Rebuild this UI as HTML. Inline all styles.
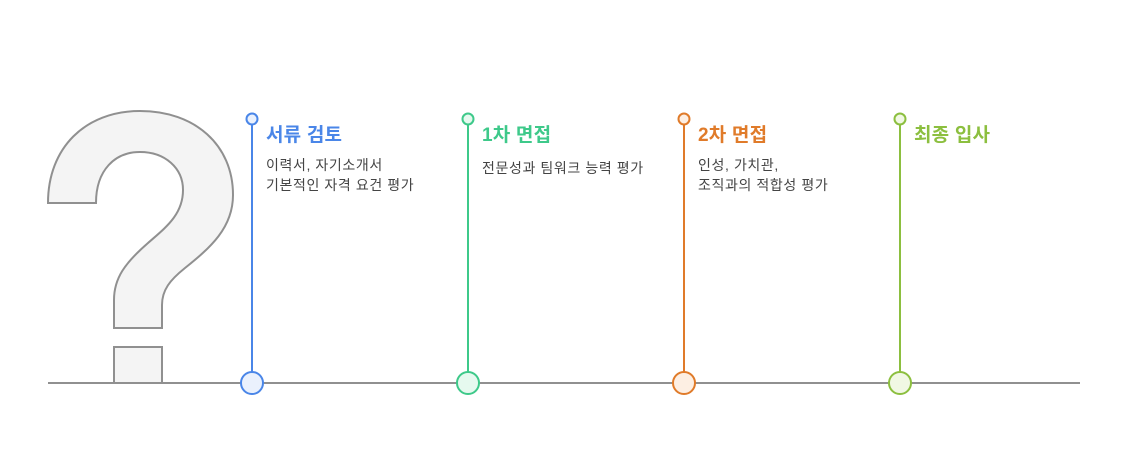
<!DOCTYPE html><html><head><meta charset="utf-8"><style>
body{margin:0;width:1126px;height:456px;background:#fff;overflow:hidden;font-family:"Liberation Sans","Noto Sans CJK KR",sans-serif}
.t{position:absolute;font-size:19px;font-weight:bold;letter-spacing:0.2px}
.d{position:absolute;font-size:14px;color:#444;line-height:20px;letter-spacing:0.6px}
</style></head><body>
<svg width="1126" height="456" style="position:absolute;left:0;top:0">
<path d="M48,203 L96,203 C96,170 115,152 140,152 C165,152 183,168 183,190 C183,215 165,228 148,243 C125,263 114,278 114,300 L114,328 L162,328 L162,305 C162,290 170,280 185,268 C210,248 233,228 233,195 C233,145 195,111 140,111 C85,111 48,148 48,203 Z" fill="#f4f4f4" stroke="#909090" stroke-width="2"/>
<path d="M114,383 L114,347 L162,347 L162,383" fill="#f4f4f4" stroke="#909090" stroke-width="2"/>
<line x1="48" y1="383" x2="1080" y2="383" stroke="#909090" stroke-width="2"/>
<g stroke-width="2">
<line x1="252" y1="125" x2="252" y2="372" stroke="#4a86e8"/><circle cx="252" cy="119" r="5.5" fill="#eaf1fd" stroke="#4a86e8"/><circle cx="252" cy="383" r="11" fill="#eaf1fd" stroke="#4a86e8"/>
<line x1="468" y1="125" x2="468" y2="372" stroke="#3ec98a"/><circle cx="468" cy="119" r="5.5" fill="#e6f9ef" stroke="#3ec98a"/><circle cx="468" cy="383" r="11" fill="#e6f9ef" stroke="#3ec98a"/>
<line x1="684" y1="125" x2="684" y2="372" stroke="#e07b2a"/><circle cx="684" cy="119" r="5.5" fill="#fdefe3" stroke="#e07b2a"/><circle cx="684" cy="383" r="11" fill="#fdefe3" stroke="#e07b2a"/>
<line x1="900" y1="125" x2="900" y2="372" stroke="#8cbf3f"/><circle cx="900" cy="119" r="5.5" fill="#f1f8e4" stroke="#8cbf3f"/><circle cx="900" cy="383" r="11" fill="#f1f8e4" stroke="#8cbf3f"/>
</g></svg>
<div class="t" style="left:266px;top:120px;color:#4a86e8">서류 검토</div>
<div class="d" style="left:266px;top:155px">이력서, 자기소개서<br>기본적인 자격 요건 평가</div>
<div class="t" style="left:482px;top:120px;color:#3ec98a">1차 면접</div>
<div class="d" style="left:482px;top:158px">전문성과 팀워크 능력 평가</div>
<div class="t" style="left:698px;top:120px;color:#e07b2a">2차 면접</div>
<div class="d" style="left:698px;top:155px">인성, 가치관,<br>조직과의 적합성 평가</div>
<div class="t" style="left:914px;top:120px;color:#8cbf3f">최종 입사</div>
</body></html>
